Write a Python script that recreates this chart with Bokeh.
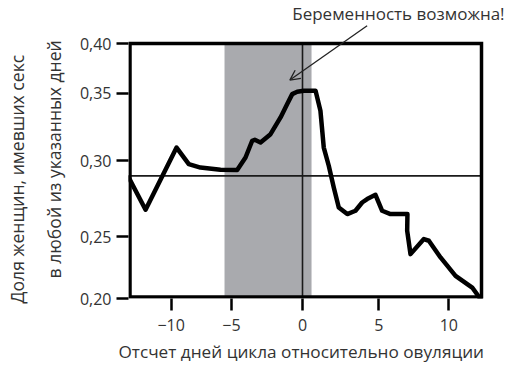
from bokeh.plotting import figure
from bokeh.models import (ColumnDataSource, FixedTicker, BoxAnnotation, Title,
                          Label, Arrow, OpenHead, Range1d)
from bokeh.embed import file_html
from bokeh.resources import INLINE

# Day of cycle relative to ovulation (read along the drawn axis)
days = [-12.50, -11.29, -9.06, -8.18, -7.34, -5.90, -4.70, -4.10, -3.62, -3.43,
        -3.02, -2.30, -1.58, -1.10, -0.74, -0.38, 0.09, 0.94, 1.29, 1.53,
        1.89, 2.25, 2.61, 3.22, 3.81, 4.29, 4.65, 5.25, 5.73, 6.33,
        7.55, 7.53, 7.77, 8.73, 9.09, 9.93, 11.01, 12.21, 12.81]
# Share of women who had sex on any of the given days
share = [0.2949, 0.2696, 0.3184, 0.3054, 0.3027, 0.3009, 0.3007, 0.3106, 0.3237, 0.3245,
         0.3224, 0.3289, 0.3420, 0.3525, 0.3603, 0.3621, 0.3629, 0.3629, 0.3472, 0.3184,
         0.3041, 0.2871, 0.2714, 0.2662, 0.2688, 0.2753, 0.2780, 0.2813, 0.2688, 0.2662,
         0.2662, 0.2531, 0.2348, 0.2466, 0.2453, 0.2322, 0.2178, 0.2086, 0.1995]

mean_share = 0.2962
fertile_start = -5.61
fertile_end = 0.65
ovulation_day = 0.0

x_tick_pos = [-9.45, -5.11, 0.0, 5.49, 10.53]
x_tick_labels = ["−10", "−5", "0", "5", "10"]
y_tick_pos = [0.20, 0.2486, 0.3080, 0.3608, 0.40]
y_tick_labels = ["0,20", "0,25", "0,30", "0,35", "0,40"]

# plotted box (axes extent)
x_lo, x_hi = -12.41, 12.878
y_lo, y_hi = 0.2012, 0.40

FONT = "Open Sans"
TXT = "#333333"

W, H = 508, 372
p = figure(width=W, height=H, output_backend="svg", toolbar_location=None,
           x_range=Range1d(-12.518, -12.518 + (W - 128) / 13.9),
           y_range=Range1d(0.20, 0.20 + (H - 74) / 1275.0),
           min_border_left=128, min_border_right=0, min_border_top=0,
           min_border_bottom=74)
p.grid.visible = False
p.outline_line_color = None
p.background_fill_color = "white"
p.border_fill_color = "white"

p.add_layout(BoxAnnotation(left=fertile_start, right=fertile_end,
                           bottom=y_lo, top=y_hi,
                           fill_color="#a9aaae", fill_alpha=1.0, line_color=None,
                           level="underlay"))
p.segment(x0=[ovulation_day, x_lo], y0=[y_lo, mean_share],
          x1=[ovulation_day, x_hi], y1=[y_hi, mean_share],
          line_color="#1a1a1a", line_width=1.6)

src = ColumnDataSource(dict(x=days, y=share))
p.line("x", "y", source=src, line_color="black", line_width=4.5,
       line_join="round", line_cap="round")

p.quad(left=[x_lo], right=[x_hi], bottom=[y_lo], top=[y_hi],
       fill_color=None, line_color="black", line_width=3.5, line_join="miter")

for ax in (p.xaxis[0], p.yaxis[0]):
    ax.axis_line_color = None
    ax.major_tick_in = 0
    ax.major_tick_out = 12
    ax.major_tick_line_width = 2.5
    ax.major_tick_line_color = "black"
    ax.minor_tick_line_color = None
    ax.major_label_text_font = FONT
    ax.major_label_text_font_size = "16px"
    ax.major_label_text_color = TXT

p.xaxis.ticker = FixedTicker(ticks=x_tick_pos)
p.xaxis.major_label_overrides = dict(zip(x_tick_pos, x_tick_labels))
p.yaxis.ticker = FixedTicker(ticks=y_tick_pos)
p.yaxis.major_label_overrides = dict(zip(y_tick_pos, y_tick_labels))
p.xaxis.major_label_standoff = 8
p.yaxis.major_label_standoff = 5

def title(text, offset, standoff, size):
    return Title(text=text, align="left", offset=offset, standoff=standoff,
                 text_font=FONT, text_font_size=size, text_font_style="normal",
                 text_color=TXT)

p.add_layout(title("Отсчет дней цикла относительно овуляции", -10, 8, "17.2px"), "below")
p.add_layout(title("в любой из указанных дней", 20, 22, "17.6px"), "left")
p.add_layout(title("Доля женщин, имевших секс", -5, 0, "17.6px"), "left")

p.add_layout(Label(x=6.9, y=0.4237, text="Беременность возможна!",
                   text_font=FONT, text_font_size="17px", text_color=TXT,
                   text_align="center", text_baseline="middle"))
p.add_layout(Arrow(x_start=4.65, y_start=0.4139, x_end=-0.91, y_end=0.3713,
                   line_color="#222222", line_width=1.3,
                   end=OpenHead(size=10, line_color="#222222", line_width=1.3)))

open("out.html", "w").write(file_html(p, INLINE))
